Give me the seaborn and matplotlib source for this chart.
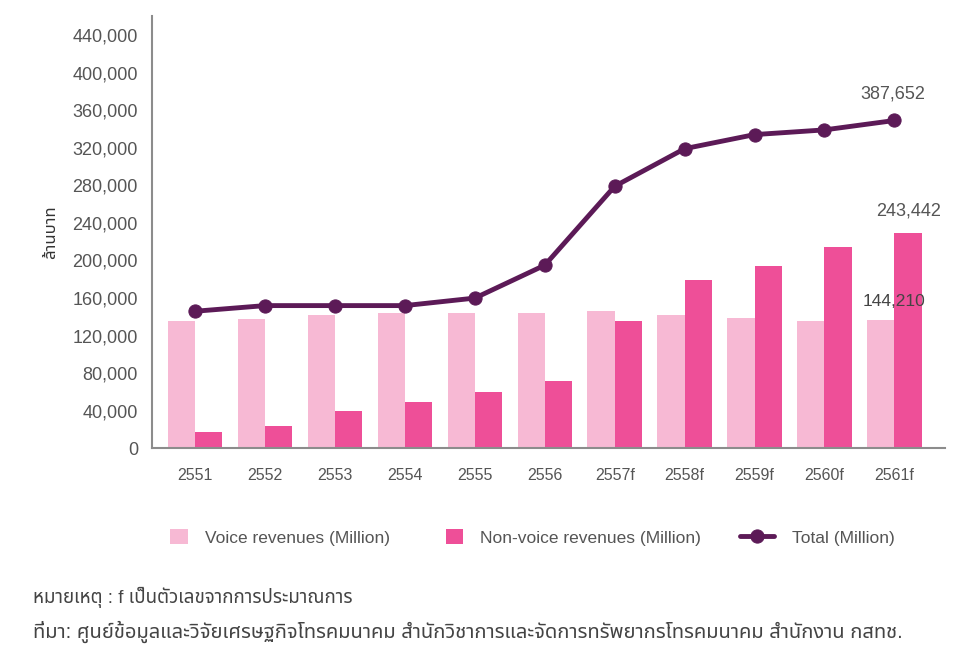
import matplotlib
matplotlib.use("Agg")
import matplotlib.pyplot as plt
from matplotlib import font_manager
from matplotlib.legend_handler import HandlerLine2D
from matplotlib.lines import Line2D
import seaborn as sns
import pandas as pd
import numpy as np

years = ["2551", "2552", "2553", "2554", "2555", "2556", "2557f", "2558f", "2559f", "2560f", "2561f"]
voice = [136000, 138000, 142000, 144500, 144500, 144500, 146000, 141500, 138500, 135500, 137000]
nonVoice = [18000, 23500, 40000, 49000, 60500, 72000, 135500, 179500, 194000, 214500, 229000]
total = [146000, 152000, 152000, 152000, 160000, 195000, 279000, 319000, 334000, 339000, 349000]

voiceLabel = "Voice revenues (Million)"
nonVoiceLabel = "Non-voice revenues (Million)"
totalLabel = "Total (Million)"
yLabel = "ล้านบาท"
note = "หมายเหตุ : f เป็นตัวเลขจากการประมาณการ"
source = "ที่มา: ศูนย์ข้อมูลและวิจัยเศรษฐกิจโทรคมนาคม สำนักวิชาการและจัดการทรัพยากรโทรคมนาคม สำนักงาน กสทช."

voiceColor = "#f7b9d4"
nonVoiceColor = "#ee4f98"
lineColor = "#5c1a57"
textColor = "#555555"


class WideLineHandler(HandlerLine2D):
    # line key twice as long as the square bar keys
    def create_artists(self, legend, orig, xdescent, ydescent, width, height, fontsize, trans):
        return super().create_artists(legend, orig, xdescent + width, ydescent, width * 2,
                                      height, fontsize, trans)


sns.set_style("white")
installed = set(f.name for f in font_manager.fontManager.ttflist)
thaiFont = [f for f in ["Noto Sans Thai", "Sarabun", "Anuphan", "Bai Jamjuree"] if f in installed][0]
plt.rcParams['font.family'] = ["Liberation Sans", thaiFont]

data = pd.DataFrame({"Year": years * 2,
                     "Value": voice + nonVoice,
                     "Type": [voiceLabel] * len(years) + [nonVoiceLabel] * len(years)})

fig, ax = plt.subplots(figsize=(9.67, 6.48), dpi=100)
fig.subplots_adjust(left=0.157, right=0.977, top=0.975, bottom=0.308)

sns.barplot(data=data, x="Year", y="Value", hue="Type", palette=[voiceColor, nonVoiceColor],
            width=0.78, gap=0, saturation=1, linewidth=0, ax=ax, legend=True)
sns.lineplot(x=np.arange(len(years)), y=total, color=lineColor, linewidth=3.5, marker="o",
             markersize=9.5, markeredgecolor=lineColor, label=totalLabel, ax=ax)

ax.set_xlim(-0.62, 10.72)
ax.set_ylim(0, 460000)
ax.set_yticks(np.arange(0, 440001, 40000))
ax.yaxis.set_major_formatter(matplotlib.ticker.FuncFormatter(lambda v, p: "{:,.0f}".format(v)))
ax.tick_params(axis="both", colors=textColor, length=0)
ax.tick_params(axis="y", labelsize=13, pad=10)
ax.tick_params(axis="x", labelsize=11.5, pad=14)
ax.set_xlabel("")
ax.set_ylabel(yLabel, color="#333333", fontsize=12, labelpad=10)
for side in ["top", "right"]:
    ax.spines[side].set_visible(False)
for side in ["left", "bottom"]:
    ax.spines[side].set_color("#8c8c8c")
    ax.spines[side].set_linewidth(1.5)

ax.annotate("387,652", (9.97, total[-1]), xytext=(0, 16), textcoords="offset points",
            ha="center", color=textColor, fontsize=13)
ax.annotate("243,442", (10.2, nonVoice[-1]), xytext=(0, 13), textcoords="offset points",
            ha="center", color=textColor, fontsize=13)
ax.annotate("144,210", (10, voice[-1]), xytext=(0, 10), textcoords="offset points",
            ha="center", color="#444444", fontsize=12.5)

handles, labels = ax.get_legend_handles_labels()
ax.legend(handles, labels, loc="upper center", bbox_to_anchor=(0.48, -0.15), ncol=3, frameon=False,
          fontsize=12.5, labelcolor=textColor, handlelength=1.0, handleheight=1.0,
          columnspacing=3.2, handletextpad=1.0, handler_map={Line2D: WideLineHandler()})

fig.text(0.034, 0.069, note, fontsize=13.5, color="#444444")
fig.text(0.034, 0.015, source, fontsize=14.5, color="#444444")

fig.savefig("out.png", dpi=100)
